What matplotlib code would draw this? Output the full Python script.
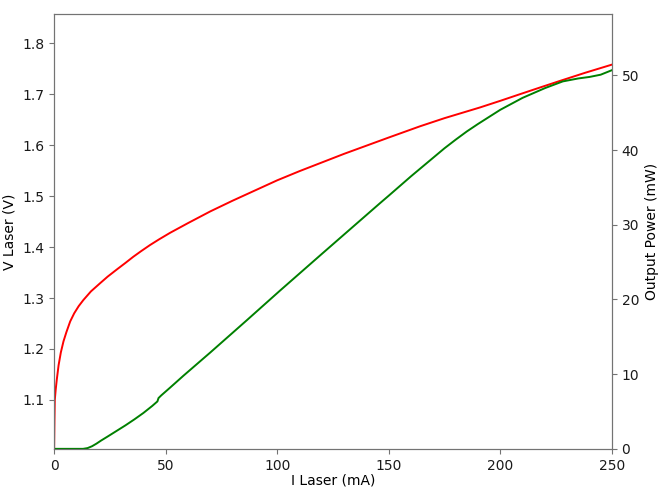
# -*- coding: utf-8 -*-
import matplotlib
matplotlib.use("Agg")
import matplotlib.pyplot as plt

# Laser current (mA) and forward voltage (V)
i_laser_v = [0, 0.15, 0.3, 0.7, 1.2, 2, 3, 4.2, 5.5, 7.2, 9, 11, 13.1, 16.5, 20.6,
             24, 28.1, 32, 35.5, 39, 43, 47, 52, 60, 70, 80, 90, 100, 110, 120, 130,
             140, 150, 164, 175, 190.9, 200, 208.8, 217.7, 226.7, 238, 250]
v_laser = [1.004, 1.06, 1.10, 1.12, 1.14, 1.168, 1.193, 1.215, 1.233, 1.254, 1.270,
           1.284, 1.296, 1.313, 1.329, 1.342, 1.356, 1.369, 1.381, 1.392, 1.404,
           1.415, 1.428, 1.447, 1.470, 1.491, 1.511, 1.531, 1.549, 1.566, 1.583,
           1.599, 1.615, 1.637, 1.653, 1.674, 1.687, 1.700, 1.713, 1.726, 1.742, 1.758]

# Laser current (mA) and optical output power (mW)
i_laser_p = [0, 13, 15, 17, 19, 21, 24, 28, 32, 36, 40, 44, 46.3, 46.8, 48, 52, 58,
             70, 86.3, 101.3, 120, 146.1, 150, 160, 170, 175, 180, 185, 190, 200,
             210, 220, 228, 235, 240, 245, 250]
p_out = [0, 0, 0.1, 0.35, 0.7, 1.1, 1.65, 2.4, 3.15, 3.95, 4.8, 5.75, 6.35, 6.8,
         7.15, 8.2, 9.8, 12.9, 17.2, 21.2, 26.1, 32.9, 33.9, 36.5, 39.0, 40.25,
         41.4, 42.5, 43.5, 45.4, 47.0, 48.3, 49.2, 49.6, 49.8, 50.1, 50.7]

v_ticks = [1.1, 1.2, 1.3, 1.4, 1.5, 1.6, 1.7, 1.8]
p_ticks = [0, 10, 20, 30, 40, 50]

fig, ax1 = plt.subplots(figsize=(6.6, 4.9), dpi=100)
fig.subplots_adjust(left=0.082, right=0.927, top=0.971, bottom=0.084)

ax1.plot(i_laser_v, v_laser, color="red", linewidth=1.4)
ax1.set_xlim(0, 250)
ax1.set_ylim(1.004, 1.857)
ax1.set_yticks(v_ticks)
ax1.set_xlabel("I Laser (mA)", labelpad=1)
ax1.set_ylabel("V Laser (V)")

ax2 = ax1.twinx()
ax2.plot(i_laser_p, p_out, color="green", linewidth=1.4)
ax2.set_ylim(0, 58.2)
ax2.set_yticks(p_ticks)
ax2.set_ylabel("Output Power (mW)")

# spines look grey in the reference
for ax in (ax1, ax2):
    for sp in ax.spines.values():
        sp.set_color("0.45")
    ax.tick_params(colors="0.45", labelcolor="0.1")

fig.savefig("out.png", dpi=100)
